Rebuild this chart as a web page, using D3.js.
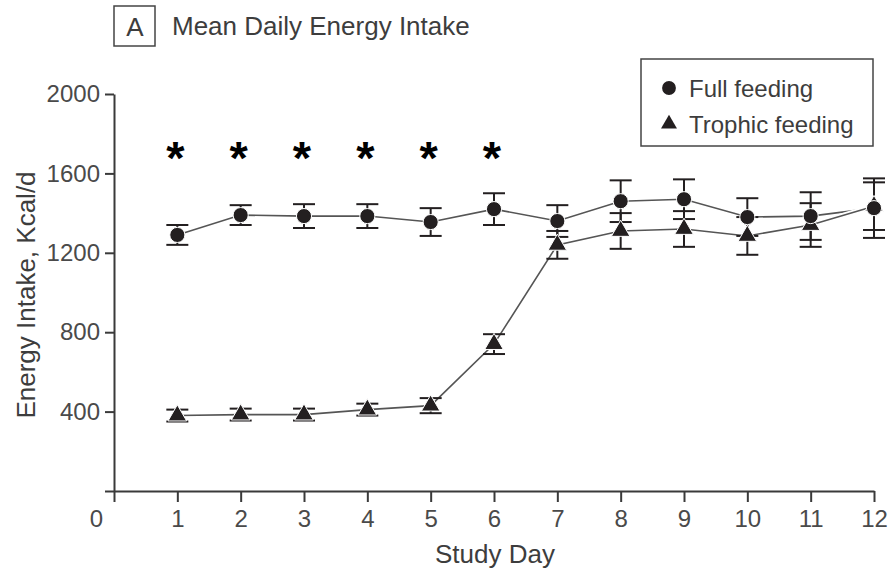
<!DOCTYPE html>
<html lang="en">
<head>
<meta charset="utf-8">
<style type="text/css">
    body { margin: 0; background: #fff; }
    text { font-family: "Liberation Sans", Arial, sans-serif; fill: #3d3d3d; }
    .axis path, .axis line { stroke: #3a3a3a; stroke-width: 2px; }
    .axis text { font-size: 24px; fill: #4a4a4a; }
</style>
</head>
<body>
<script src="https://d3js.org/d3.v7.min.js"></script>
<script type="text/javascript">
    // values (mean +/- error)
    var days = [1, 2, 3, 4, 5, 6, 7, 8, 9, 10, 11, 12];
    var fullMean = [1290, 1390, 1385, 1385, 1355, 1420, 1360, 1460, 1470, 1380, 1385, 1425];
    var fullErr = [50, 50, 60, 60, 70, 80, 80, 105, 100, 95, 120, 150];
    var trophicMean = [380, 385, 385, 410, 430, 740, 1240, 1310, 1320, 1285, 1340, 1435];
    var trophicErr = [30, 30, 30, 30, 38, 50, 70, 90, 90, 95, 110, 120];
    var sigDays = [1, 2, 3, 4, 5, 6];
    var xTicks = d3.range(0, 13);
    var yTicks = [0, 400, 800, 1200, 1600, 2000];

    var width = 890, height = 569;

    var svg = d3.select("body").append("svg")
        .attr("width", width)
        .attr("height", height);

    var x = d3.scaleLinear().domain([0, 12]).range([114, 874]);
    var y = d3.scaleLinear().domain([0, 2000]).range([491, 94]);

    // axes
    svg.append("g")
        .attr("class", "axis")
        .attr("transform", "translate(0," + y(0) + ")")
        .call(d3.axisBottom(x).tickValues(xTicks).tickSize(11).tickSizeOuter(0).tickPadding(8))
        .selectAll(".tick text")
        .attr("dx", function (d) { return d === 0 ? -18 : 0; });

    svg.append("g")
        .attr("class", "axis")
        .attr("transform", "translate(" + x(0) + ",0)")
        .call(d3.axisLeft(y).tickValues(yTicks).tickSize(9).tickSizeOuter(0).tickPadding(5)
            .tickFormat(function (d) { return d === 0 ? "" : d; }));

    // axis titles
    svg.append("text")
        .attr("x", 495).attr("y", 563)
        .attr("text-anchor", "middle")
        .style("font-size", "26px")
        .text("Study Day");

    svg.append("text")
        .attr("transform", "translate(35,295) rotate(-90)")
        .attr("text-anchor", "middle")
        .style("font-size", "26px")
        .text("Energy Intake, Kcal/d");

    // panel label + title
    svg.append("rect")
        .attr("x", 114).attr("y", 6).attr("width", 41).attr("height", 40)
        .attr("fill", "none").attr("stroke", "#444").attr("stroke-width", 1.5);
    svg.append("text")
        .attr("x", 135).attr("y", 36)
        .attr("text-anchor", "middle")
        .style("font-size", "26px")
        .text("A");
    svg.append("text")
        .attr("x", 172).attr("y", 35)
        .style("font-size", "26px")
        .text("Mean Daily Energy Intake");

    var full = days.map(function (d, i) { return { day: d, mean: fullMean[i], err: fullErr[i] }; });
    var trophic = days.map(function (d, i) { return { day: d, mean: trophicMean[i], err: trophicErr[i] }; });

    var line = d3.line()
        .x(function (d) { return x(d.day); })
        .y(function (d) { return y(d.mean); });

    [full, trophic].forEach(function (series) {
        svg.append("path").datum(series)
            .attr("d", line)
            .attr("fill", "none").attr("stroke", "#fff").attr("stroke-width", 5);
        svg.append("path").datum(series)
            .attr("d", line)
            .attr("fill", "none").attr("stroke", "#555").attr("stroke-width", 1.6);
    });

    // error bars
    var capW = 11;
    [full, trophic].forEach(function (series) {
        var eb = svg.append("g").selectAll("g")
            .data(series).enter().append("g")
            .attr("stroke", "#231f20").attr("stroke-width", 2);
        eb.append("line")
            .attr("x1", function (d) { return x(d.day); })
            .attr("x2", function (d) { return x(d.day); })
            .attr("y1", function (d) { return y(d.mean + d.err); })
            .attr("y2", function (d) { return y(d.mean - d.err); });
        eb.append("line")
            .attr("x1", function (d) { return x(d.day) - capW; })
            .attr("x2", function (d) { return x(d.day) + capW; })
            .attr("y1", function (d) { return y(d.mean + d.err); })
            .attr("y2", function (d) { return y(d.mean + d.err); });
        eb.append("line")
            .attr("x1", function (d) { return x(d.day) - capW; })
            .attr("x2", function (d) { return x(d.day) + capW; })
            .attr("y1", function (d) { return y(d.mean - d.err); })
            .attr("y2", function (d) { return y(d.mean - d.err); });
    });

    // markers
    var circleSym = d3.symbol().type(d3.symbolCircle).size(180);
    var triSym = d3.symbol().type(d3.symbolTriangle).size(150);

    svg.append("g").selectAll("path")
        .data(trophic).enter().append("path")
        .attr("d", triSym)
        .attr("transform", function (d) { return "translate(" + x(d.day) + "," + y(d.mean) + ")"; })
        .attr("fill", "#231f20").attr("stroke", "#fff").attr("stroke-width", 1);

    svg.append("g").selectAll("path")
        .data(full).enter().append("path")
        .attr("d", circleSym)
        .attr("transform", function (d) { return "translate(" + x(d.day) + "," + y(d.mean) + ")"; })
        .attr("fill", "#231f20").attr("stroke", "#fff").attr("stroke-width", 1);

    // significance asterisks
    svg.append("g").selectAll("text")
        .data(sigDays).enter().append("text")
        .attr("x", function (d) { return x(d) - 2; })
        .attr("y", 174)
        .attr("text-anchor", "middle")
        .style("font-size", "47px")
        .style("font-weight", "bold")
        .style("fill", "#000")
        .text("*");

    // legend
    var leg = svg.append("g");
    leg.append("rect")
        .attr("x", 641).attr("y", 59).attr("width", 232).attr("height", 87)
        .attr("fill", "#fff").attr("stroke", "#444").attr("stroke-width", 1.5);
    leg.append("path")
        .attr("d", d3.symbol().type(d3.symbolCircle).size(150))
        .attr("transform", "translate(669,88)")
        .attr("fill", "#231f20");
    leg.append("path")
        .attr("d", d3.symbol().type(d3.symbolTriangle).size(110))
        .attr("transform", "translate(669,124)")
        .attr("fill", "#231f20");
    leg.append("text").attr("x", 689).attr("y", 97)
        .style("font-size", "24px").text("Full feeding");
    leg.append("text").attr("x", 689).attr("y", 133)
        .style("font-size", "24px").text("Trophic feeding");
</script>
</body>
</html>
